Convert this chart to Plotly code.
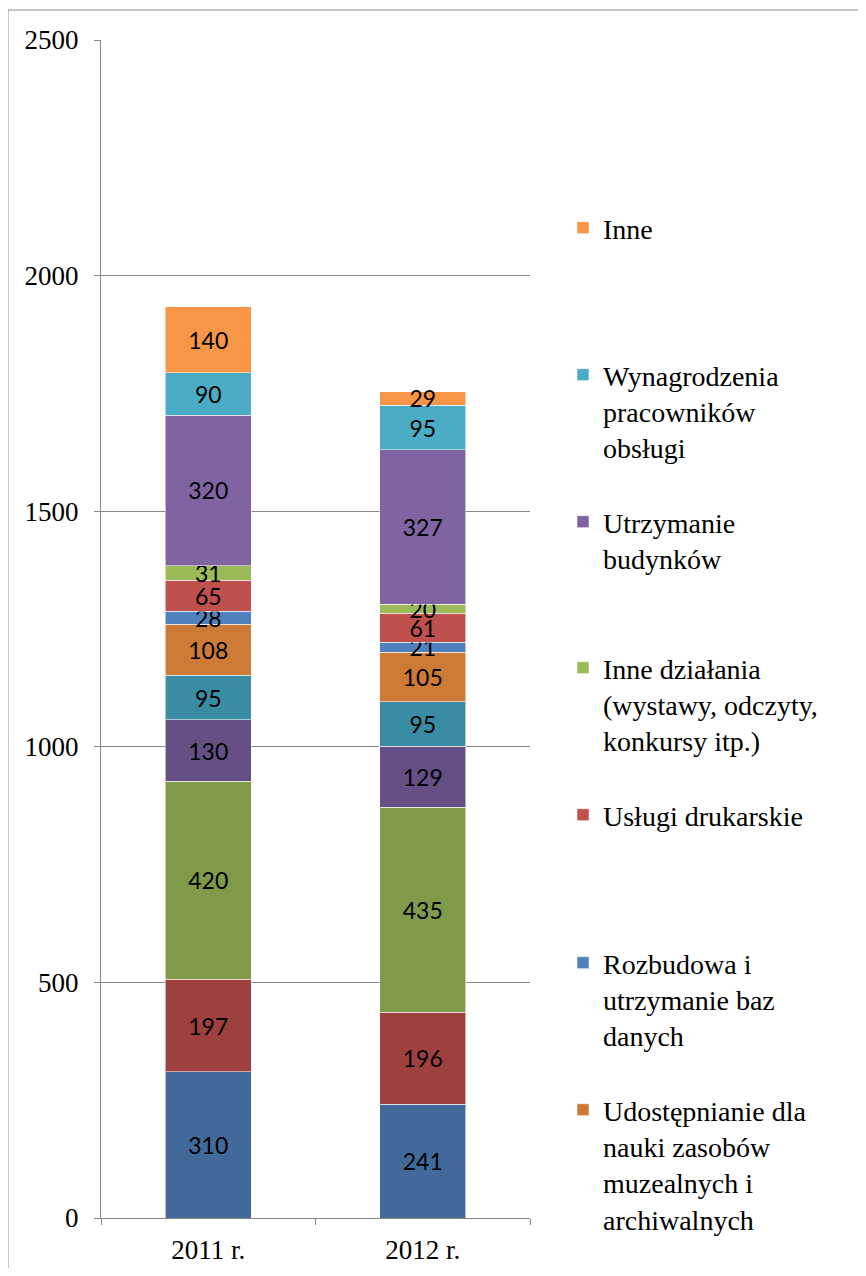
import plotly.graph_objects as go

categories = ["2011 r.", "2012 r."]

# series from bottom to top of the stack
series_names = [
    "Seria 1",
    "Seria 2",
    "Seria 3",
    "Seria 4",
    "Seria 5",
    "Udostępnianie dla<br>nauki zasobów<br>muzealnych i<br>archiwalnych",
    "Rozbudowa i<br>utrzymanie baz<br>danych",
    "Usługi drukarskie",
    "Inne działania<br>(wystawy, odczyty,<br>konkursy itp.)",
    "Utrzymanie<br>budynków",
    "Wynagrodzenia<br>pracowników<br>obsługi",
    "Inne",
]
values_2011 = [310, 197, 420, 130, 95, 108, 28, 65, 31, 320, 90, 140]
values_2012 = [241, 196, 435, 129, 95, 105, 21, 61, 20, 327, 95, 29]
show_in_legend = [False, False, False, False, False, True, True, True, True, True, True, True]
colors = ["#416A9B", "#9E413E", "#7F9A48", "#664F84", "#3A8CA3", "#CD7A37",
          "#4F81BD", "#C0504D", "#9BBB59", "#8064A2", "#4BACC6", "#F79646"]

SERIF = "Liberation Serif"
OFF = 8  # page body margin
W, H = 850, 1260
L, R, T, B = 101 - OFF, 530 - OFF, 40 - OFF, 1218 - OFF  # plot area in figure px


def px_x(sx):  # screen px -> paper
    return (sx - OFF - L) / (R - L)


def px_y(sy):
    return 1 - (sy - OFF - T) / (B - T)


fig = go.Figure()
legend_slots = {}
legend_order = [i for i in range(len(series_names)) if show_in_legend[i]][::-1]
first_line_y = [229, 376, 523, 669, 816, 964, 1111]
for k, idx in enumerate(legend_order):
    legend_slots[idx] = "legend" if k == 0 else f"legend{k + 1}"

for i, name in enumerate(series_names):
    tr = dict(
        x=categories,
        y=[values_2011[i], values_2012[i]],
        name=name,
        marker=dict(color=colors[i], line=dict(color="rgba(255,255,255,0.55)", width=1)),
        texttemplate="%{y}",
        textposition="inside",
        insidetextanchor="middle",
        textangle=0,
        textfont=dict(family="Lato", size=23, color="black"),
        showlegend=show_in_legend[i],
    )
    if i in legend_slots:
        tr["legend"] = legend_slots[i]
    fig.add_trace(go.Bar(**tr))

layout_legends = {}
for k, idx in enumerate(legend_order):
    key = legend_slots[idx]
    layout_legends[key] = dict(
        x=px_x(563), y=px_y(first_line_y[k] - 26),
        xanchor="left", yanchor="top", valign="top",
        font=dict(family=SERIF, size=28, color="black"),
        bgcolor="rgba(0,0,0,0)", borderwidth=0, itemwidth=30,
    )

fig.update_layout(
    width=W, height=H,
    margin=dict(l=L, r=W - R, t=T, b=H - B, pad=0, autoexpand=False),
    barmode="stack",
    bargap=0.6,
    plot_bgcolor="white",
    paper_bgcolor="white",
    font=dict(family=SERIF),
    uniformtext=dict(minsize=23, mode="show"),
    **layout_legends,
)
fig.update_yaxes(
    range=[0, 2500], dtick=500, tick0=0,
    showgrid=True, gridcolor="#888888", gridwidth=1,
    showline=True, linecolor="#888888", linewidth=1,
    ticks="outside", ticklen=6, tickcolor="#888888",
    tickfont=dict(family=SERIF, size=27, color="black"),
    ticklabelstandoff=10, zeroline=False, automargin=False,
)
fig.update_xaxes(
    type="category", tickson="boundaries",
    showline=True, linecolor="#888888", linewidth=1,
    ticks="outside", ticklen=6, tickcolor="#888888",
    tickfont=dict(family=SERIF, size=27, color="black"),
    ticklabelstandoff=8, showgrid=False, automargin=False,
)
# outer chart frame
fig.add_shape(type="rect", xref="paper", yref="paper",
              x0=px_x(8), x1=px_x(900), y0=px_y(1300), y1=px_y(10),
              line=dict(color="#8C8C8C", width=1), fillcolor="rgba(0,0,0,0)", layer="below")

fig.write_html("out.html")
